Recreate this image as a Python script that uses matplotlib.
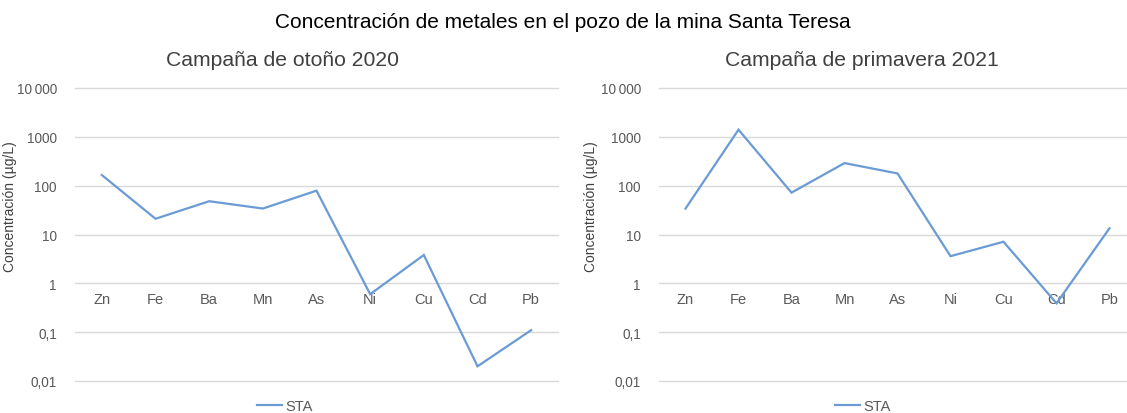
import matplotlib.pyplot as plt
import matplotlib.ticker as mticker

plt.rcParams['font.family'] = ['Liberation Sans', 'DejaVu Sans']

metales = ['Zn', 'Fe', 'Ba', 'Mn', 'As', 'Ni', 'Cu', 'Cd', 'Pb']
sta_otono_2020 = [165, 21, 48, 34, 79, 0.6, 3.8, 0.02, 0.11]
sta_primavera_2021 = [34, 1400, 72, 290, 178, 3.6, 7.1, 0.39, 13.4]

campanas = ['Campaña de otoño 2020', 'Campaña de primavera 2021']
series = [sta_otono_2020, sta_primavera_2021]
decadas = [0.01, 0.1, 1, 10, 100, 1000, 10000]
etiquetas_y = ['0,01', '0,1', '1', '10', '100', '1000', '10\u2009000']

W, H = 1127, 414
fig = plt.figure(figsize=(W / 100, H / 100), dpi=100)
fig.text(563 / W, 1 - 22 / H, 'Concentración de metales en el pozo de la mina Santa Teresa',
         ha='center', va='center', fontsize=15, color='black')

# axes boxes in pixels: left, right edge of the gridlines
cajas = [(75, 558), (659, 1136)]
centros_titulo = [282, 862]
centros_leyenda = [285, 863]
AZUL = '#6a9bd5'
GRIS = '#595959'

for k in range(2):
    x0, x1 = cajas[k]
    ax = fig.add_axes([x0 / W, (H - 382) / H, (x1 - x0) / W, (382 - 89) / H])
    ax.set_yscale('log')
    ax.set_ylim(0.01, 10000)
    ax.set_xlim(-0.5, 8.5)
    ax.yaxis.set_major_locator(mticker.FixedLocator(decadas))
    ax.yaxis.set_major_formatter(mticker.FixedFormatter(etiquetas_y))
    ax.yaxis.set_minor_locator(mticker.NullLocator())
    ax.tick_params(axis='y', length=0, pad=13, labelsize=9.8, labelcolor=GRIS)
    ax.set_xticks([])
    for s in ax.spines.values():
        s.set_visible(False)
    ax.grid(axis='y', color='#d9d9d9', linewidth=1.0)
    for gl in ax.get_ygridlines():
        gl.set_clip_on(False)
    ax.set_axisbelow(True)

    # category labels sit just under the y = 1 line
    for i, m in enumerate(metales):
        ax.annotate(m, xy=(i, 1), xytext=(0, -11.5), textcoords='offset points',
                    ha='center', va='center', fontsize=10.5, color=GRIS)

    ax.plot(range(len(metales)), series[k], color=AZUL, linewidth=1.6,
            label='STA', solid_joinstyle='miter', zorder=3)

    ax.set_ylabel('Concentración (µg/L)', fontsize=10, color='#404040')
    ax.yaxis.set_label_coords((17 if k == 0 else 598) / W, 0.5,
                              transform=fig.transFigure)

    fig.text(centros_titulo[k] / W, 1 - 61 / H, campanas[k], ha='center', va='center',
             fontsize=15.2, color='#404040')

    ax.legend(loc='center', bbox_to_anchor=(centros_leyenda[k] / W, 1 - 407 / H),
              bbox_transform=fig.transFigure, frameon=False, fontsize=10.5,
              handlelength=1.7, handletextpad=0.2, labelcolor=GRIS,
              borderpad=0, borderaxespad=0)

fig.savefig('out.png', dpi=100)
